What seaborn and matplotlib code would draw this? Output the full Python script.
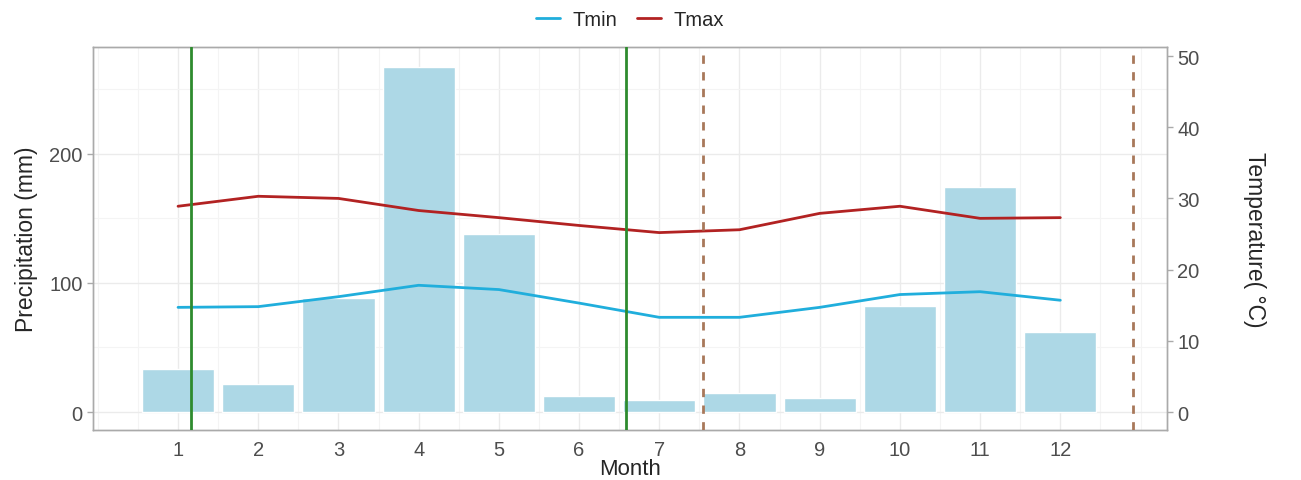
import numpy as np
import pandas as pd
import seaborn as sns
import matplotlib.pyplot as plt
from matplotlib.ticker import MultipleLocator

# monthly climate data
months = [1, 2, 3, 4, 5, 6, 7, 8, 9, 10, 11, 12]
precip = [33, 21.6, 88, 267, 137.5, 12.4, 9.3, 14.7, 10.8, 82, 174, 62]
tmin = [14.7, 14.8, 16.2, 17.8, 17.2, 15.3, 13.3, 13.3, 14.7, 16.5, 16.9, 15.7]
tmax = [28.9, 30.3, 30.0, 28.3, 27.3, 26.2, 25.2, 25.6, 27.9, 28.9, 27.2, 27.3]
green_lines = [1.16, 6.59]
dashed_lines = [7.55, 12.91]

df = pd.DataFrame({'Month': months, 'Precip': precip, 'Tmin': tmin, 'Tmax': tmax})
df_long = df.melt(id_vars='Month', value_vars=['Tmin', 'Tmax'], var_name='var', value_name='temp')

sns.set_style('white')
plt.rcParams['font.family'] = ['Liberation Sans', 'DejaVu Sans']

fig = plt.figure(figsize=(13.01, 4.81), dpi=100)
ax = fig.add_axes([0.0715, 0.104, 0.8255, 0.796])

# grid (theme_bw style)
ax.set_axisbelow(True)
ax.xaxis.set_major_locator(plt.FixedLocator(months))
ax.xaxis.set_minor_locator(MultipleLocator(0.5))
ax.yaxis.set_major_locator(MultipleLocator(100))
ax.yaxis.set_minor_locator(MultipleLocator(50))
ax.grid(which='major', color='#EBEBEB', lw=1.0)
ax.grid(which='minor', color='#F4F4F4', lw=0.8)

sns.barplot(data=df, x='Month', y='Precip', native_scale=True, color='#ADD8E6',
            saturation=1, width=0.9, ax=ax, zorder=2)
ax.set_xlim(-0.06, 13.33)
ax.set_ylim(-13.9, 282.6)

ax2 = ax.twinx()
sns.lineplot(data=df_long, x='Month', y='temp', hue='var', palette={'Tmin': '#20AEDC', 'Tmax': '#B22222'},
             lw=2, ax=ax2)
ax2.set_ylim(-13.9 / 5.514, 282.6 / 5.514)
ax2.yaxis.set_major_locator(MultipleLocator(10))

for v in green_lines:
    ax2.axvline(v, color='#2E8B2E', lw=2, zorder=5)
for v in dashed_lines:
    ax2.axvline(v, color='#A8785A', lw=2, ls=(0, (3, 3)), zorder=5)

for a in (ax, ax2):
    for s in a.spines.values():
        s.set_color('#AAAAAA')
        s.set_linewidth(1)
    a.tick_params(axis='both', which='major', colors='#AAAAAA', labelcolor='#4D4D4D',
                  labelsize=14.5, length=4, width=1)
    a.tick_params(which='minor', length=0)

ax.set_xlabel('Month', fontsize=16, labelpad=-1)
ax.set_ylabel('Precipitation (mm)', fontsize=16.5, labelpad=8)
ax2.set_xlabel('')
ax2.set_ylabel('Temperature( \u00b0C)', fontsize=16.5, rotation=-90, labelpad=48)

handles, labels = ax2.get_legend_handles_labels()
ax2.legend(handles, labels, loc='lower center', bbox_to_anchor=(0.5, 1.0), ncol=2, frameon=False,
           fontsize=14.5, handlelength=1.2, columnspacing=1.0, handletextpad=0.6)

fig.savefig('out.png', dpi=100)
